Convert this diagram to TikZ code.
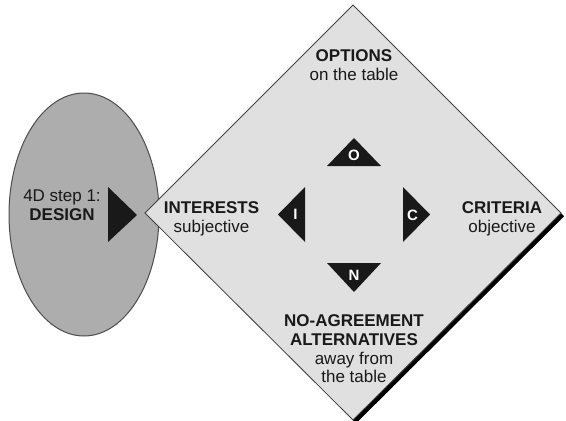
\documentclass[tikz,border=0pt]{standalone}
\usepackage{fontspec}
\setmainfont{Liberation Sans}
\usetikzlibrary{shapes.geometric}
\begin{document}
\begin{tikzpicture}[x=1pt,y=-1pt,
  lbl/.style={align=center, inner sep=0pt, text=black!90,
    font=\fontsize{17}{18.7}\selectfont},
  tri/.style={fill=black!90, draw=none},
  letter/.style={text=white, inner sep=0pt, font=\bfseries\fontsize{15}{15}\selectfont}]
\useasboundingbox (0,0) rectangle (566,421);

% design ellipse
\node (design) [ellipse, minimum width=150pt, minimum height=243pt, inner sep=0pt,
  fill=black!32, draw=black!70, line width=1pt] at (84,214.5) {};

% pointer triangle inside the ellipse
\coordinate (pa) at (108,187);
\coordinate (pb) at (137,215);
\coordinate (pc) at (108,242);
\fill[tri] (pa) -- (pb) -- (pc) -- cycle;

% diamond corners
\coordinate (dt) at (353,5);
\coordinate (dr) at (561,213);
\coordinate (db) at (353,420);
\coordinate (dl) at (145,213);

% drop shadow along the lower right edge, then the diamond itself
\fill[black] ([shift={(3.2,3.2)}]dt) -- ([shift={(3.2,3.2)}]dr)
  -- ([shift={(3.2,3.2)}]db) -- ([shift={(3.2,3.2)}]dl) -- cycle;
\filldraw[fill=black!12, draw=black!75, line width=0.8pt]
  (dt) -- (dr) -- (db) -- (dl) -- cycle;

% inner pointer triangles
\coordinate (o1) at (327,166); \coordinate (o2) at (381,166); \coordinate (o3) at (354,138);
\coordinate (n1) at (327,263); \coordinate (n2) at (381,263); \coordinate (n3) at (354,292);
\coordinate (i1) at (305,187); \coordinate (i2) at (305,242); \coordinate (i3) at (278,214.5);
\coordinate (c1) at (403,187); \coordinate (c2) at (403,242); \coordinate (c3) at (430,214.5);
\fill[tri] (o1) -- (o2) -- (o3) -- cycle;
\fill[tri] (n1) -- (n2) -- (n3) -- cycle;
\fill[tri] (i1) -- (i2) -- (i3) -- cycle;
\fill[tri] (c1) -- (c2) -- (c3) -- cycle;

\node (lo) [letter] at (354,155) {O};
\node (ln) [letter] at (354,275) {N};
\node (li) [letter] at (295.5,214.5) {I};
\node (lc) [letter] at (412.5,215) {C};

% labels
\node (step) [lbl] at (62,205.5) {4D step 1:\\\textbf{DESIGN}};
\node (opt) [lbl] at (354,65) {\textbf{OPTIONS}\\on the table};
\node (int) [lbl] at (211.5,219) {\textbf{INTERESTS}\\subjective};
\node (cri) [lbl] at (502,219) {\textbf{CRITERIA}\\objective};
\node (noa) [lbl] at (354,349) {\textbf{NO-AGREEMENT}\\\textbf{ALTERNATIVES}\\away from\\the table};
\end{tikzpicture}
\end{document}
